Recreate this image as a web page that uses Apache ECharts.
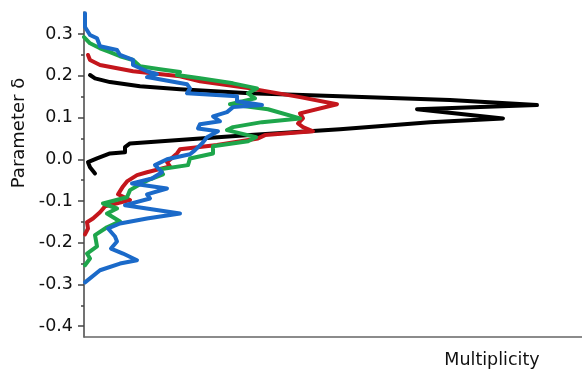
<!DOCTYPE html>
<html><head><meta charset="utf-8">
<script src="https://cdn.jsdelivr.net/npm/echarts@6/dist/echarts.min.js"></script>
<style>html,body{margin:0;padding:0;background:#fff}#c{width:582px;height:370px}</style>
</head><body><div id="c"></div>
<script>
const yTickValues = [-0.4, -0.3, -0.2, -0.1, 0, 0.1, 0.2, 0.3];
const yMinorTickValues = [-0.35, -0.25, -0.15, -0.05, 0.05, 0.15, 0.25];

const blackM = [6,11,26,56,96,166,256,366,453,333,419,346,256,166,116,46,41,41,26,13,4,6,11];
const blackD = [0.202,0.194,0.185,0.175,0.168,0.158,0.151,0.142,0.130,0.120,0.098,0.089,0.072,0.058,0.050,0.038,0.029,0.017,0.014,0.002,-0.007,-0.019,-0.034];

const redM = [4,6,16,49,96,116,166,216,253,216,219,214,219,229,181,174,133,96,93,83,86,63,53,43,39,34,46,21,16,9,3,4,1];
const redD = [0.250,0.238,0.226,0.211,0.199,0.187,0.170,0.149,0.132,0.110,0.098,0.086,0.077,0.067,0.058,0.050,0.034,0.024,0.014,-0.007,-0.017,-0.031,-0.038,-0.053,-0.065,-0.084,-0.098,-0.113,-0.127,-0.142,-0.151,-0.166,-0.180];

const greenM = [0,6,16,26,36,49,56,76,96,93,116,149,173,164,171,146,184,216,178,149,143,172,164,129,129,106,104,76,79,66,56,46,43,19,33,23,36,23,11,13,3,6,1];
const greenD = [0.293,0.278,0.266,0.257,0.247,0.238,0.223,0.216,0.209,0.202,0.194,0.182,0.170,0.158,0.146,0.132,0.120,0.098,0.089,0.077,0.070,0.053,0.043,0.031,0.014,0.002,-0.014,-0.024,-0.036,-0.048,-0.060,-0.074,-0.091,-0.106,-0.118,-0.130,-0.149,-0.163,-0.182,-0.209,-0.226,-0.238,-0.254];

const blueM = [1,1,6,13,16,33,36,49,49,63,73,63,103,106,103,153,153,178,149,143,129,136,116,114,134,123,118,111,106,83,71,78,68,48,83,63,66,41,96,63,36,24,31,33,27,39,53,36,16,1];
const blueD = [0.350,0.317,0.298,0.290,0.271,0.262,0.250,0.238,0.226,0.211,0.204,0.197,0.180,0.170,0.158,0.151,0.139,0.130,0.125,0.113,0.103,0.091,0.084,0.074,0.067,0.053,0.038,0.022,0.012,0.000,-0.014,-0.031,-0.046,-0.058,-0.070,-0.084,-0.094,-0.110,-0.130,-0.142,-0.154,-0.166,-0.185,-0.197,-0.214,-0.226,-0.242,-0.250,-0.266,-0.295];

function zip(m, d) { return m.map((v, i) => [v, d[i]]); }
function mkSeries(m, d, color) {
  return {
    type: 'line', data: zip(m, d), showSymbol: false, symbol: 'none',
    lineStyle: { color: color, width: 4, join: 'round', cap: 'round' },
    emphasis: { disabled: true }, clip: false
  };
}

const FONT = 'DejaVu Sans';
const Y_MIN = -0.426, Y_MAX = 0.353;
const chart = echarts.init(document.getElementById('c'), null, { renderer: 'canvas' });
chart.setOption({
  animation: false,
  grid: { left: 84, right: 0, top: 12, bottom: 33 },
  xAxis: {
    type: 'value', min: 0, max: 498,
    axisLine: { show: true, onZero: false, lineStyle: { color: '#666', width: 1.5 } },
    axisTick: { show: false }, axisLabel: { show: false }, splitLine: { show: false }
  },
  yAxis: [{
    type: 'value', min: Y_MIN, max: Y_MAX, position: 'left',
    axisLine: { show: true, onZero: false, lineStyle: { color: '#444', width: 1.5 } },
    axisTick: { show: true, length: 6, customValues: yTickValues, lineStyle: { color: '#444', width: 1.5 } },
    axisLabel: { customValues: yTickValues, formatter: v => v.toFixed(1), fontFamily: FONT, fontSize: 17.5, color: '#111', margin: 11 },
    splitLine: { show: false }
  }, {
    type: 'value', min: Y_MIN, max: Y_MAX, position: 'left',
    axisLine: { show: false, onZero: false },
    axisTick: { show: true, length: 3, customValues: yMinorTickValues, lineStyle: { color: '#444', width: 1.5 } },
    axisLabel: { show: false }, splitLine: { show: false }
  }],
  series: [
    mkSeries(blackM, blackD, '#000000'),
    mkSeries(redM, redD, '#c4161c'),
    mkSeries(greenM, greenD, '#1ea64b'),
    mkSeries(blueM, blueD, '#1b6ac9')
  ],
  graphic: [
    { type: 'text', x: 492, y: 360, style: { text: 'Multiplicity', fontFamily: FONT, fontSize: 17.5, fill: '#111', textAlign: 'center', textVerticalAlign: 'middle', align: 'center', verticalAlign: 'middle' } },
    { type: 'text', x: 19, y: 133, rotation: Math.PI / 2, style: { text: 'Parameter δ', fontFamily: FONT, fontSize: 18, fill: '#111', textAlign: 'center', textVerticalAlign: 'middle', align: 'center', verticalAlign: 'middle' } }
  ]
});
</script></body></html>
